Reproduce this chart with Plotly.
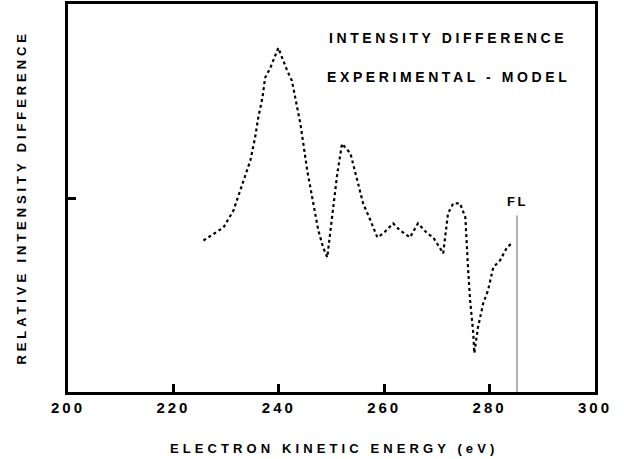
import plotly.graph_objects as go

energy = [225.7, 229.5, 231.4, 233.3, 234.6, 235.5, 236.1, 236.9, 237.4, 238.4, 239.9,
          241.6, 242.5, 243.5, 244.1, 245.4, 246.5, 247.5, 248.4, 249.2, 250.1, 251.1,
          252.0, 253.6, 254.9, 256.0, 257.4, 258.7, 259.8, 261.7, 263.0, 264.9, 266.4,
          268.2, 269.3, 271.2, 272.1, 273.1, 274.4, 275.4, 275.9, 276.3, 276.9, 277.1,
          277.8, 278.8, 279.7, 280.7, 282.0, 283.3, 284.4]
difference = [-0.219, -0.152, -0.064, 0.090, 0.193, 0.311, 0.414, 0.517, 0.620, 0.671, 0.774,
              0.656, 0.604, 0.465, 0.383, 0.141, -0.028, -0.167, -0.254, -0.306, -0.100, 0.126,
              0.280, 0.229, 0.090, -0.028, -0.116, -0.203, -0.183, -0.131, -0.167, -0.203, -0.131,
              -0.183, -0.203, -0.285, -0.080, -0.028, -0.028, -0.100, -0.357, -0.527, -0.697, -0.800,
              -0.666, -0.542, -0.476, -0.357, -0.321, -0.254, -0.229]
fermi_level = 285.2
x_ticks = [200, 220, 240, 260, 280, 300]

FONT = "Liberation Sans, Arial, sans-serif"

def spaced(t, s=2.5):
    return f'<span style="letter-spacing:{s}px">{t}</span>'

fig = go.Figure()
fig.add_trace(go.Scatter(x=energy, y=difference, mode="lines",
                         line=dict(color="black", width=2.2, dash="dot"),
                         showlegend=False))
fig.add_shape(type="line", x0=fermi_level, x1=fermi_level, y0=-1, y1=-0.09,
              xref="x", yref="y", line=dict(color="#666", width=1))
fig.add_annotation(x=fermi_level, y=-0.02, text=spaced("<b>FL</b>", 2.5), showarrow=False,
                   font=dict(family=FONT, size=13, color="black"))
fig.add_annotation(x=272.2, y=0.826, text=spaced("<b>INTENSITY DIFFERENCE</b>", 3.6), showarrow=False,
                   font=dict(family=FONT, size=14, color="black"))
fig.add_annotation(x=272.2, y=0.625, text=spaced("<b>EXPERIMENTAL - MODEL</b>", 3.6), showarrow=False,
                   font=dict(family=FONT, size=14, color="black"))
fig.add_annotation(xref="paper", yref="paper", x=0.505, y=-0.145, yanchor="middle",
                   text=spaced("<b>ELECTRON KINETIC ENERGY (eV)</b>", 4.1), showarrow=False,
                   font=dict(family=FONT, size=13, color="black"))
fig.add_annotation(xref="paper", yref="paper", x=-0.09, y=0.5, xanchor="center", textangle=-90,
                   text=spaced("<b>RELATIVE INTENSITY DIFFERENCE</b>", 3.9), showarrow=False,
                   font=dict(family=FONT, size=13, color="black"))

fig.update_layout(
    width=624, height=459, paper_bgcolor="white", plot_bgcolor="white",
    margin=dict(l=68, r=29, t=4, b=67, autoexpand=False),
    font=dict(family=FONT, color="black"),
    xaxis=dict(range=[200, 300], tickvals=x_ticks, ticktext=[spaced(str(v), 3) for v in x_ticks],
               ticks="inside", ticklen=8, tickwidth=2.5, tickcolor="black",
               showline=True, linewidth=2.5, linecolor="black", mirror=True, automargin=False,
               showgrid=False, zeroline=False,
               tickfont=dict(size=15, family=FONT, weight="bold")),
    yaxis=dict(range=[-1, 1], tickvals=[0], showticklabels=False,
               ticks="inside", ticklen=8, tickwidth=2.5, tickcolor="black",
               showline=True, linewidth=2.5, linecolor="black", mirror=True, automargin=False,
               showgrid=False, zeroline=False),
)
fig.write_html("out.html", config={"displayModeBar": False},
               post_script="document.body.style.margin='0';")
